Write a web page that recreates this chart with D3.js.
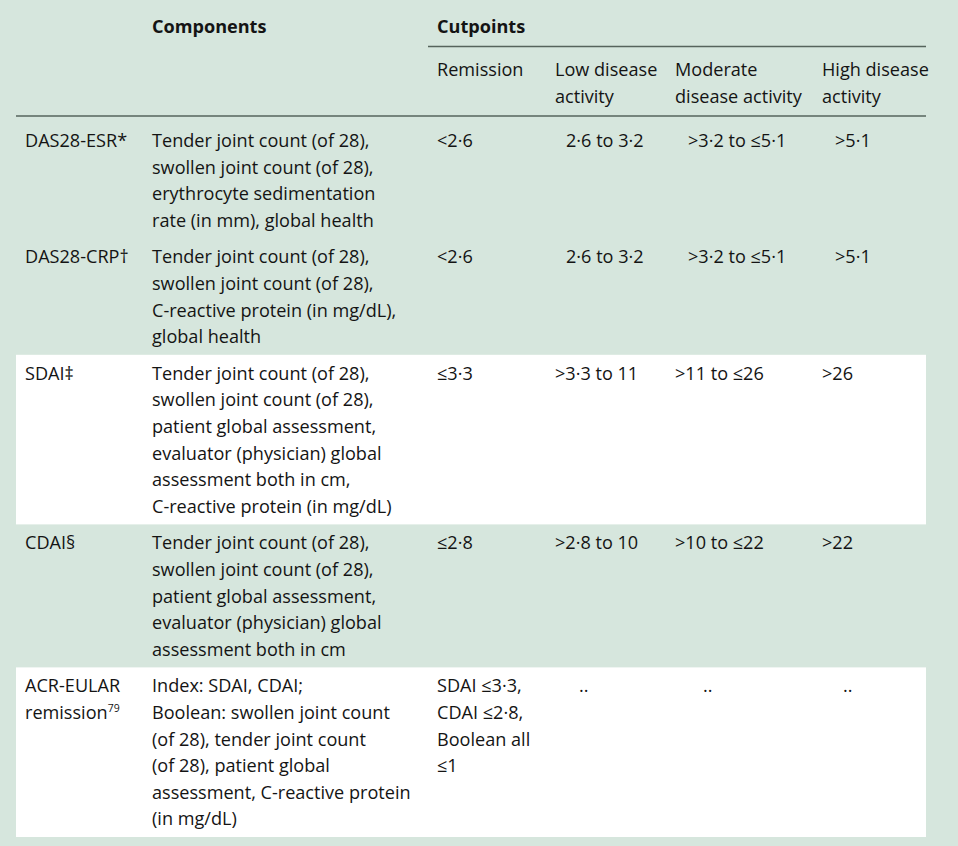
<!DOCTYPE html>
<html><head><meta charset="utf-8">
<script src="https://cdn.jsdelivr.net/npm/d3@7"></script>
<style>
html,body{margin:0;padding:0;background:#d6e6dd;}
svg{display:block;}
text{font-family:"Open Sans",sans-serif;fill:#141414;}
</style></head>
<body>
<script>
// ---- data ----
const indexLabels = ["DAS28-ESR*", "DAS28-CRP†", "SDAI‡", "CDAI§", "ACR-EULAR|remission"];
const indexSup = ["", "", "", "", "79"];
const components = [
  ["Tender joint count (of 28),", "swollen joint count (of 28),", "erythrocyte sedimentation", "rate (in mm), global health"],
  ["Tender joint count (of 28),", "swollen joint count (of 28),", "C-reactive protein (in mg/dL),", "global health"],
  ["Tender joint count (of 28),", "swollen joint count (of 28),", "patient global assessment,", "evaluator (physician) global", "assessment both in cm,", "C-reactive protein (in mg/dL)"],
  ["Tender joint count (of 28),", "swollen joint count (of 28),", "patient global assessment,", "evaluator (physician) global", "assessment both in cm"],
  ["Index: SDAI, CDAI;", "Boolean: swollen joint count", "(of 28), tender joint count", "(of 28), patient global", "assessment, C-reactive protein", "(in mg/dL)"]
];
const remission = [["<2·6"], ["<2·6"], ["≤3·3"], ["≤2·8"], ["SDAI ≤3·3,", "CDAI ≤2·8,", "Boolean all", "≤1"]];
const lowActivity = ["2·6 to 3·2", "2·6 to 3·2", ">3·3 to 11", ">2·8 to 10", ".."];
const moderateActivity = [">3·2 to ≤5·1", ">3·2 to ≤5·1", ">11 to ≤26", ">10 to ≤22", ".."];
const highActivity = [">5·1", ">5·1", ">26", ">22", ".."];
const whiteRows = [2, 4];
const headComponents = "Components";
const headCutpoints = "Cutpoints";
const subHeads = [["Remission"], ["Low disease", "activity"], ["Moderate", "disease activity"], ["High disease", "activity"]];

// ---- layout ----
const W = 958, H = 846;
const FS = 18.1, LH = 26.6;
const svg = d3.select("body").append("svg").attr("width", W).attr("height", H);
svg.append("rect").attr("width", W).attr("height", H).attr("fill", "#d6e6dd");

const colKeys = ["index", "components", "remission", "low", "moderate", "high"];
const colX = d3.scaleOrdinal().domain(colKeys).range([25, 152, 437, 555, 675, 822]);
const tableLeft = 16, tableRight = 926;

// row geometry
const nLines = indexLabels.map((d, i) => Math.max(components[i].length, remission[i].length, d.split("|").length));
const headerBottom = 116;
const rowTops = [];
let y = headerBottom;
nLines.forEach((n, i) => { rowTops.push(y); y += n * LH + 10 + (i === 0 ? 6 : 0); });
const rowBottoms = rowTops.map((t, i) => t + nLines[i] * LH + 10 + (i === 0 ? 6 : 0));
const firstBase = rowTops.map((t, i) => t + 25 + (i === 0 ? 6 : 0));

// white bands
svg.selectAll("rect.band").data(whiteRows).join("rect")
  .attr("class", "band")
  .attr("x", tableLeft).attr("width", tableRight - tableLeft)
  .attr("y", d => rowTops[d]).attr("height", d => rowBottoms[d] - rowTops[d])
  .attr("fill", "#ffffff");

// header
svg.append("text").attr("x", colX("components")).attr("y", 33).attr("font-size", FS).attr("font-weight", 700).text(headComponents);
svg.append("text").attr("x", colX("remission")).attr("y", 33).attr("font-size", FS).attr("font-weight", 700).text(headCutpoints);
svg.append("line").attr("x1", 428).attr("x2", tableRight).attr("y1", 46.5).attr("y2", 46.5).attr("stroke", "#56645c").attr("stroke-width", 1.3);
svg.append("line").attr("x1", tableLeft).attr("x2", tableRight).attr("y1", headerBottom).attr("y2", headerBottom).attr("stroke", "#56645c").attr("stroke-width", 1.3);

const subKeys = ["remission", "low", "moderate", "high"];
subHeads.forEach((lines, j) => {
  const t = svg.append("text").attr("font-size", FS);
  lines.forEach((l, k) => t.append("tspan").attr("x", colX(subKeys[j])).attr("y", 76 + k * LH).text(l));
});

function multiline(x, y0, lines) {
  const t = svg.append("text").attr("font-size", FS);
  lines.forEach((l, k) => t.append("tspan").attr("x", x).attr("y", y0 + k * LH).text(l));
  return t;
}

// body rows
indexLabels.forEach((lab, i) => {
  const b = firstBase[i];
  const t = multiline(colX("index"), b, lab.split("|"));
  if (indexSup[i]) {
    t.select("tspan:last-child").append("tspan").attr("font-size", 10.5).attr("dy", -7).text(indexSup[i]);
  }
  multiline(colX("components"), b, components[i]);
  multiline(colX("remission"), b, remission[i]);
  const na = lowActivity[i] === "..";
  const naOff = { low: 24, moderate: 28, high: 21 };
  [["low", lowActivity], ["moderate", moderateActivity], ["high", highActivity]].forEach(([k, arr]) => {
    const off = na ? naOff[k] : (i < 2 ? (k === "low" ? 11 : 13) : 0);
    multiline(colX(k) + off, b, [arr[i]]);
  });
});
</script>
</body></html>
